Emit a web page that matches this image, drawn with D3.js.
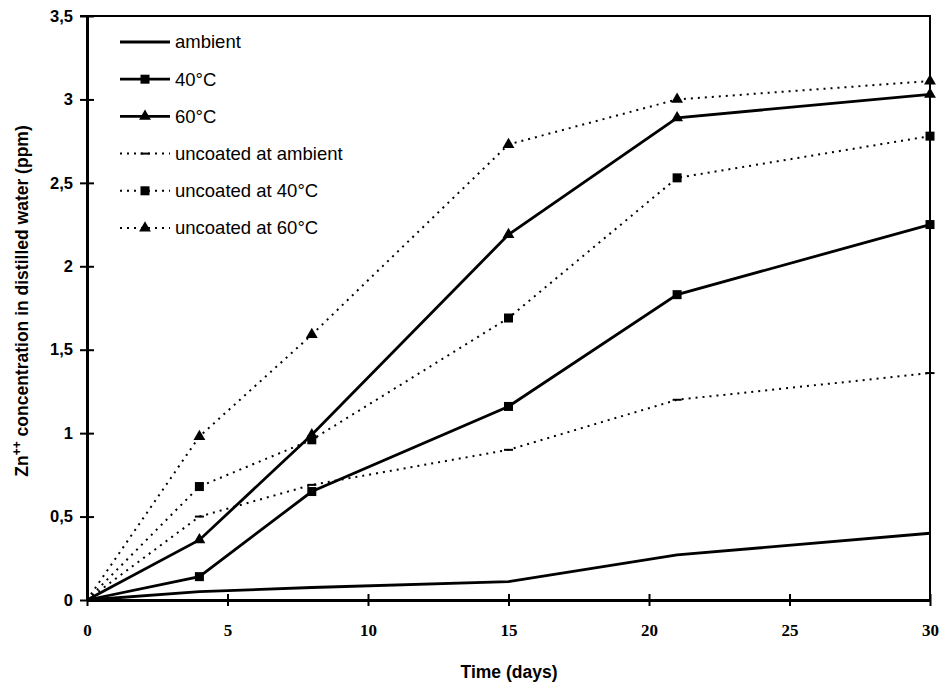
<!DOCTYPE html>
<html>
<head>
<meta charset="utf-8">
<script src="https://cdn.jsdelivr.net/npm/d3@7"></script>
<style>
  body { margin: 0; background: #fff; }
  svg { display: block; }
</style>
</head>
<body>
<div id="chart"></div>
<script>
const days = [0, 4, 8, 15, 21, 30];

const ambient = [0, 0.05, 0.075, 0.11, 0.27, 0.40];
const at40 = [0, 0.14, 0.65, 1.16, 1.83, 2.25];
const at60 = [0, 0.36, 0.99, 2.19, 2.89, 3.03];
const uncoatedAmbient = [0, 0.50, 0.69, 0.90, 1.20, 1.36];
const uncoated40 = [0, 0.68, 0.96, 1.69, 2.53, 2.78];
const uncoated60 = [0, 0.98, 1.59, 2.73, 3.00, 3.11];

const seriesNames = ['ambient', '40°C', '60°C', 'uncoated at ambient', 'uncoated at 40°C', 'uncoated at 60°C'];
const seriesValues = [ambient, at40, at60, uncoatedAmbient, uncoated40, uncoated60];
const seriesMarkers = ['none', 'square', 'triangle', 'dash', 'square', 'triangle'];
const seriesDotted = [false, false, false, true, true, true];

const xTicks = [0, 5, 10, 15, 20, 25, 30];
const yTicks = [0, 0.5, 1, 1.5, 2, 2.5, 3, 3.5];

const width = 940;
const height = 683;
const margin = { top: 16, right: 10, bottom: 83, left: 87 };

const x = d3.scaleLinear()
  .domain([0, 30])
  .range([margin.left, width - margin.right]);

const y = d3.scaleLinear()
  .domain([0, 3.5])
  .range([height - margin.bottom, margin.top]);

const fmtY = d => d3.format('.1~f')(d).replace('.', ',');

const sans = '"Liberation Sans", Arial, sans-serif';
const serif = '"Liberation Serif", "Times New Roman", serif';

const svg = d3.select('#chart')
  .append('svg')
  .attr('width', width)
  .attr('height', height);

// frame (top and right)
svg.append('path')
  .attr('fill', 'none')
  .attr('stroke', '#000')
  .attr('stroke-width', 2)
  .attr('d', `M${x(0) - 7},${y(3.5)}H${x(30)}V${y(0)}`);

const series = seriesNames.map((name, i) => ({
  name,
  values: seriesValues[i].map((v, j) => ({ day: days[j], value: v })),
  marker: seriesMarkers[i],
  dotted: seriesDotted[i]
}));

const line = d3.line()
  .x(d => x(d.day))
  .y(d => y(d.value));

const plot = svg.append('g');

function drawMarker(g, type, size) {
  if (type === 'square') {
    g.append('rect')
      .attr('x', -size / 2).attr('y', -size / 2)
      .attr('width', size).attr('height', size)
      .attr('fill', '#000');
  } else if (type === 'triangle') {
    g.append('path')
      .attr('d', d3.symbol(d3.symbolTriangle, size * size * 0.75)())
      .attr('fill', '#000');
  } else if (type === 'dash') {
    g.append('line')
      .attr('x1', -size / 2).attr('x2', size / 2)
      .attr('stroke', '#000').attr('stroke-width', 2);
  }
}

for (const s of series) {
  plot.append('path')
    .attr('fill', 'none')
    .attr('stroke', '#000')
    .attr('stroke-width', s.dotted ? 2 : 2.8)
    .attr('stroke-dasharray', s.dotted ? '2,5' : null)
    .attr('d', line(s.values));

  plot.append('g')
    .selectAll('g')
    .data(s.values.slice(1))
    .join('g')
    .attr('transform', d => `translate(${x(d.day)},${y(d.value)})`)
    .each(function () { drawMarker(d3.select(this), s.marker, 9); });
}

// axes
const xAxis = g => g
  .attr('transform', `translate(0,${y(0)})`)
  .call(d3.axisBottom(x).tickValues(xTicks).tickSize(0).tickPadding(24))
  .call(g => g.select('.domain').attr('stroke-width', 3))
  .call(g => g.selectAll('.tick line').remove())
  .call(g => g.selectAll('.tick').append('line')
    .attr('y1', -6).attr('y2', 6)
    .attr('stroke', '#000').attr('stroke-width', 2))
  .call(g => g.selectAll('.tick text')
    .attr('font-family', serif)
    .attr('font-weight', 'bold')
    .attr('font-size', 17)
    .attr('fill', '#000'));

const yAxis = g => g
  .attr('transform', `translate(${x(0)},0)`)
  .call(d3.axisLeft(y).tickValues(yTicks).tickFormat(fmtY).tickSize(0).tickPadding(14))
  .call(g => g.select('.domain').attr('stroke-width', 3))
  .call(g => g.selectAll('.tick line').remove())
  .call(g => g.selectAll('.tick').append('line')
    .attr('x1', -7).attr('x2', 7)
    .attr('stroke', '#000').attr('stroke-width', 2))
  .call(g => g.selectAll('.tick text')
    .attr('font-family', sans)
    .attr('font-weight', 'bold')
    .attr('font-size', 16.5)
    .attr('fill', '#000'));

svg.append('g').call(xAxis);
svg.append('g').call(yAxis);

// axis titles
svg.append('text')
  .attr('x', 509)
  .attr('y', 678)
  .attr('text-anchor', 'middle')
  .attr('font-family', sans)
  .attr('font-weight', 'bold')
  .attr('font-size', 17.5)
  .text('Time (days)');

const yTitle = svg.append('text')
  .attr('transform', 'translate(28,301) rotate(-90)')
  .attr('text-anchor', 'middle')
  .attr('font-family', sans)
  .attr('font-weight', 'bold')
  .attr('font-size', 17.5);
yTitle.append('tspan').text('Zn');
yTitle.append('tspan').attr('dy', -7).attr('font-size', 12).text('++');
yTitle.append('tspan').attr('dy', 7).text(' concentration in distilled water (ppm)');

// legend
const legend = svg.append('g')
  .selectAll('g')
  .data(series)
  .join('g')
  .attr('transform', (d, i) => `translate(120,${42 + i * 37.2})`);

legend.append('line')
  .attr('x1', 0).attr('x2', 50)
  .attr('stroke', '#000')
  .attr('stroke-width', d => d.dotted ? 2 : 2.8)
  .attr('stroke-dasharray', d => d.dotted ? '2,5' : null);

legend.append('g')
  .attr('transform', 'translate(25,0)')
  .each(function (d) { drawMarker(d3.select(this), d.marker, 9); });

legend.append('text')
  .attr('x', 55)
  .attr('dy', '0.35em')
  .attr('font-family', sans)
  .attr('font-size', 18.5)
  .text(d => d.name);
</script>
</body>
</html>
